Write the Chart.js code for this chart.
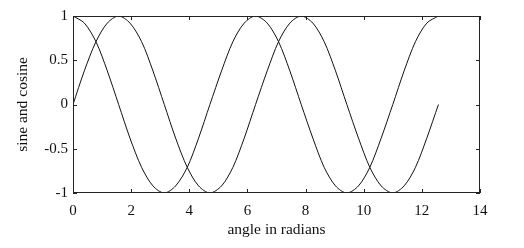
<!DOCTYPE html>
<html><head><meta charset="utf-8">
<script src="https://cdn.jsdelivr.net/npm/chart.js@4"></script>
<style>html,body{margin:0;padding:0;background:#fff}#wrap{width:524px;height:248px}</style>
</head><body><div id="wrap"><canvas id="c"></canvas></div>
<script>
const angles = [0,0.39,0.79,1.18,1.57,1.96,2.36,2.75,3.14,3.53,3.93,4.32,4.71,5.11,5.50,5.89,6.28,6.68,7.07,7.46,7.85,8.25,8.64,9.03,9.42,9.82,10.21,10.60,11.00,11.39,11.78,12.17,12.57];
const sineValues = [0,0.38,0.71,0.92,1,0.92,0.71,0.38,0,-0.38,-0.71,-0.92,-1,-0.92,-0.71,-0.38,0,0.38,0.71,0.92,1,0.92,0.71,0.38,0,-0.38,-0.71,-0.92,-1,-0.92,-0.71,-0.38,0];
const cosineValues = [1,0.92,0.71,0.38,0,-0.38,-0.71,-0.92,-1,-0.92,-0.71,-0.38,0,0.38,0.71,0.92,1,0.92,0.71,0.38,0,-0.38,-0.71,-0.92,-1,-0.92,-0.71,-0.38,0,0.38,0.71,0.92,1];
const xTicks = [0,2,4,6,8,10,12,14];
const yTicks = [-1,-0.5,0,0.5,1];
const xTitle = 'angle in radians';
const yTitle = 'sine and cosine';

const font = {family:"'Liberation Serif','Times New Roman',serif", size:15};
const titleFont = {family:"'Liberation Serif','Times New Roman',serif", size:15.5};

const boxPlugin = {
  id:'box',
  afterDatasetsDraw(chart){
    const {ctx, chartArea:a, scales:{x,y}} = chart;
    ctx.save();
    ctx.strokeStyle = '#222';
    ctx.lineWidth = 1;
    ctx.strokeRect(a.left+0.5, a.top+0.5, a.right-a.left-1, a.bottom-a.top-1);
    const L = 4;
    ctx.beginPath();
    xTicks.forEach(v=>{
      const px = Math.round(x.getPixelForValue(v))+0.5;
      ctx.moveTo(px,a.bottom); ctx.lineTo(px,a.bottom-L);
      ctx.moveTo(px,a.top); ctx.lineTo(px,a.top+L);
    });
    yTicks.forEach(v=>{
      const py = Math.round(y.getPixelForValue(v))+0.5;
      ctx.moveTo(a.left,py); ctx.lineTo(a.left+L,py);
      ctx.moveTo(a.right,py); ctx.lineTo(a.right-L,py);
    });
    ctx.stroke();
    ctx.restore();
  }
};

new Chart(document.getElementById('c'), {
  type:'line',
  data:{
    datasets:[
      {label:'sine', data:angles.map((a,i)=>({x:a,y:sineValues[i]})), borderColor:'#111', borderWidth:1, pointRadius:0, tension:0.3, fill:false},
      {label:'cosine', data:angles.map((a,i)=>({x:a,y:cosineValues[i]})), borderColor:'#111', borderWidth:1, pointRadius:0, tension:0.3, fill:false}
    ]
  },
  options:{
    responsive:true, maintainAspectRatio:false, animation:false,
    layout:{padding:{left:0,right:44,top:16,bottom:0}},
    plugins:{legend:{display:false}, tooltip:{enabled:false}},
    scales:{
      x:{type:'linear', min:0, max:14,
        afterBuildTicks(s){ s.ticks = xTicks.map(v=>({value:v})); },
        afterFit(s){ s.height = 55; },
        grid:{display:false, drawTicks:false}, border:{display:false},
        ticks:{color:'#111', font, padding:9, maxRotation:0, callback:v=>String(v)},
        title:{display:true, text:xTitle, color:'#111', font:titleFont, padding:{top:0,bottom:9}}
      },
      y:{type:'linear', min:-1, max:1,
        afterBuildTicks(s){ s.ticks = yTicks.map(v=>({value:v})); },
        afterFit(s){ s.width = 73; },
        grid:{display:false, drawTicks:false}, border:{display:false},
        ticks:{color:'#111', font, padding:5, callback:v=>String(v)},
        title:{display:true, text:yTitle, color:'#111', font:titleFont, padding:{top:14,bottom:0}}
      }
    }
  },
  plugins:[boxPlugin]
});
</script></body></html>
